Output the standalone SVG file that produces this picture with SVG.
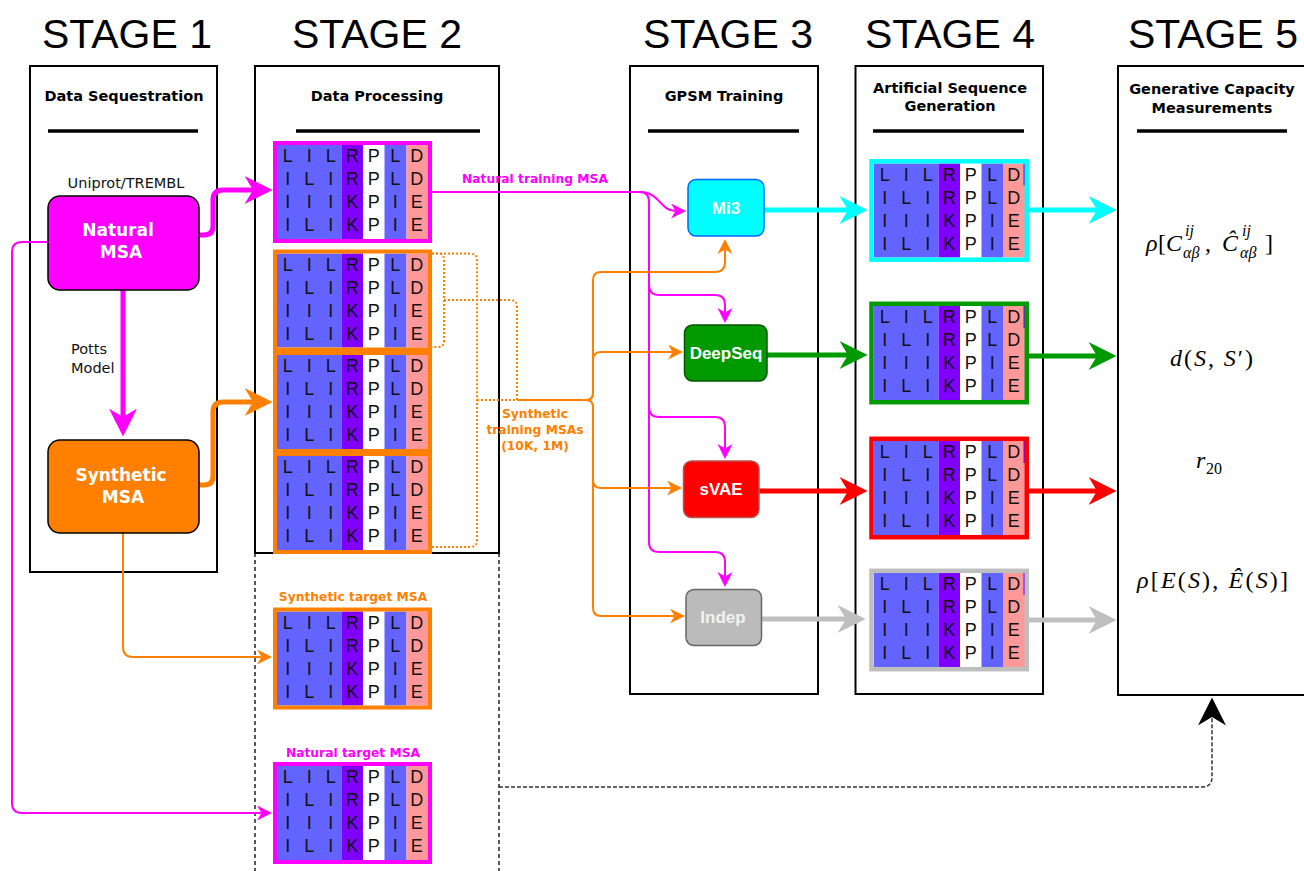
<svg xmlns="http://www.w3.org/2000/svg" xmlns:xlink="http://www.w3.org/1999/xlink" width="1304" height="871" viewBox="0 0 1304 871">
<style>
.stage{font-family:"Liberation Sans",Arial,sans-serif;font-size:41px;fill:#000;text-anchor:middle}
.ttl{font-family:"DejaVu Sans",Verdana,sans-serif;font-weight:bold;font-size:14.5px;fill:#000;text-anchor:middle}
.lbl{font-family:"DejaVu Sans",Verdana,sans-serif;font-size:14.5px;fill:#111}
.boxtxt{font-family:"DejaVu Sans",Verdana,sans-serif;font-weight:bold;font-size:17px;fill:#fff;text-anchor:middle}
.mtxt{font-family:"Liberation Sans",Arial,sans-serif;font-weight:bold;font-size:17px;fill:#fff;text-anchor:middle}
.clbl{font-family:"DejaVu Sans",Verdana,sans-serif;font-weight:bold;font-size:12.3px;text-anchor:middle}
.panel{fill:#fff;stroke:#000;stroke-width:2}
.bar{stroke:#000;stroke-width:3.5}
.aa{font-family:"Liberation Sans",Arial,sans-serif;font-size:18px;fill:#111;text-anchor:middle}
.math{font-family:"Liberation Serif","Times New Roman",serif;font-size:24px;fill:#000}
.it{font-style:italic}
.sub{font-size:16px}
.thick{fill:none;stroke-width:5}
.thin{fill:none;stroke-width:2}
.dot{fill:none;stroke:#FF8000;stroke-width:2;stroke-dasharray:2 2}
</style>
<defs>
<g id="msa">
<rect x="0" y="0" width="64.5" height="94" fill="#6363FF"/>
<rect x="64.5" y="0" width="21.5" height="94" fill="#7F00FF"/>
<rect x="86" y="0" width="21.5" height="94" fill="#FFFFFF"/>
<rect x="107.5" y="0" width="22" height="94" fill="#6363FF"/>
<rect x="129.5" y="0" width="21.5" height="94" fill="#FF9999"/>
<text class="aa" y="17"><tspan x="10.75">L</tspan><tspan x="32.25">I</tspan><tspan x="53.75">L</tspan><tspan x="75.25">R</tspan><tspan x="96.75">P</tspan><tspan x="118.25">L</tspan><tspan x="139.75">D</tspan></text>
<text class="aa" y="40"><tspan x="10.75">I</tspan><tspan x="32.25">L</tspan><tspan x="53.75">I</tspan><tspan x="75.25">R</tspan><tspan x="96.75">P</tspan><tspan x="118.25">L</tspan><tspan x="139.75">D</tspan></text>
<text class="aa" y="63"><tspan x="10.75">I</tspan><tspan x="32.25">I</tspan><tspan x="53.75">I</tspan><tspan x="75.25">K</tspan><tspan x="96.75">P</tspan><tspan x="118.25">I</tspan><tspan x="139.75">E</tspan></text>
<text class="aa" y="86"><tspan x="10.75">I</tspan><tspan x="32.25">L</tspan><tspan x="53.75">I</tspan><tspan x="75.25">K</tspan><tspan x="96.75">P</tspan><tspan x="118.25">I</tspan><tspan x="139.75">E</tspan></text>
</g>
<marker id="bMag" viewBox="0 0 10 10" refX="3" refY="5" markerWidth="28" markerHeight="28" markerUnits="userSpaceOnUse" orient="auto"><path d="M0,0 L10,5 L0,10 L3,5 Z" fill="#FF00FF"/></marker>
<marker id="bOra" viewBox="0 0 10 10" refX="3" refY="5" markerWidth="28" markerHeight="28" markerUnits="userSpaceOnUse" orient="auto"><path d="M0,0 L10,5 L0,10 L3,5 Z" fill="#FF8000"/></marker>
<marker id="bCya" viewBox="0 0 10 10" refX="3" refY="5" markerWidth="28" markerHeight="28" markerUnits="userSpaceOnUse" orient="auto"><path d="M0,0 L10,5 L0,10 L3,5 Z" fill="#00FFFF"/></marker>
<marker id="bGrn" viewBox="0 0 10 10" refX="3" refY="5" markerWidth="28" markerHeight="28" markerUnits="userSpaceOnUse" orient="auto"><path d="M0,0 L10,5 L0,10 L3,5 Z" fill="#009900"/></marker>
<marker id="bRed" viewBox="0 0 10 10" refX="3" refY="5" markerWidth="28" markerHeight="28" markerUnits="userSpaceOnUse" orient="auto"><path d="M0,0 L10,5 L0,10 L3,5 Z" fill="#FF0000"/></marker>
<marker id="bGry" viewBox="0 0 10 10" refX="3" refY="5" markerWidth="28" markerHeight="28" markerUnits="userSpaceOnUse" orient="auto"><path d="M0,0 L10,5 L0,10 L3,5 Z" fill="#BFBFBF"/></marker>
<marker id="bBlk" viewBox="0 0 10 10" refX="3" refY="5" markerWidth="28" markerHeight="28" markerUnits="userSpaceOnUse" orient="auto"><path d="M0,0 L10,5 L0,10 L3,5 Z" fill="#000"/></marker>
<marker id="sMag" viewBox="0 0 10 10" refX="3" refY="5" markerWidth="15" markerHeight="15" markerUnits="userSpaceOnUse" orient="auto"><path d="M0,0 L10,5 L0,10 L3,5 Z" fill="#FF00FF"/></marker>
<marker id="sOra" viewBox="0 0 10 10" refX="3" refY="5" markerWidth="15" markerHeight="15" markerUnits="userSpaceOnUse" orient="auto"><path d="M0,0 L10,5 L0,10 L3,5 Z" fill="#FF8000"/></marker>
</defs>

<rect width="1304" height="871" fill="#fff"/>

<g id="stage-titles">
<text class="stage" x="127" y="48">STAGE 1</text>
<text class="stage" x="377" y="48">STAGE 2</text>
<text class="stage" x="728" y="48">STAGE 3</text>
<text class="stage" x="950" y="48">STAGE 4</text>
<text class="stage" x="1213" y="48">STAGE 5</text>
</g>

<g id="stage1">
<rect class="panel" x="30" y="66" width="187" height="506"/>
<text class="ttl" x="124" y="101">Data Sequestration</text>
<line class="bar" x1="48" y1="131" x2="198" y2="131"/>
</g>
<g id="stage2">
<rect class="panel" x="255" y="66" width="244" height="487"/>
<path d="M255,553 V871 M499,553 V871" fill="none" stroke="#000" stroke-width="1.3" stroke-dasharray="4 3"/>
<text class="ttl" x="377" y="101">Data Processing</text>
<line class="bar" x1="296" y1="131" x2="480" y2="131"/>
</g>
<g id="stage3">
<rect class="panel" x="630" y="66" width="188" height="628"/>
<text class="ttl" x="724" y="101">GPSM Training</text>
<line class="bar" x1="648" y1="131" x2="799" y2="131"/>
</g>
<g id="stage4">
<rect class="panel" x="855.5" y="66" width="187.5" height="628"/>
<text class="ttl" x="950" y="93">Artificial Sequence</text>
<text class="ttl" x="950" y="111">Generation</text>
<line class="bar" x1="873" y1="131" x2="1024" y2="131"/>
</g>
<g id="stage5">
<rect class="panel" x="1118" y="66" width="200" height="629"/>
<text class="ttl" x="1212" y="94">Generative Capacity</text>
<text class="ttl" x="1212" y="113">Measurements</text>
<line class="bar" x1="1137" y1="131" x2="1287" y2="131"/>
</g>

<g id="connectors">
<path class="thick" stroke="#FF00FF" d="M123,290 V417" marker-end="url(#bMag)"/>
<path class="thick" stroke="#FF00FF" d="M199,235 H204 Q213,235 213,226 V200 Q213,190 223,190 H253" marker-end="url(#bMag)"/>
<path class="thick" stroke="#FF8000" d="M199,485 H204 Q213,485 213,476 V412 Q213,402 223,402 H253" marker-end="url(#bOra)"/>
<path class="thin" stroke="#FF00FF" d="M48,242 H22 Q12,242 12,252 V803 Q12,813 22,813 H261.5" marker-end="url(#sMag)"/>
<path class="thin" stroke="#FF8000" d="M123,533 V647 Q123,657 133,657 H261.5" marker-end="url(#sOra)"/>

<path class="thin" stroke="#FF00FF" d="M432,192 H640 C660,192 660,211 675.5,211" marker-end="url(#sMag)"/>
<path class="thin" stroke="#FF00FF" d="M640,192 Q649,192 649,202 V542 Q649,552 659,552 H715 Q725,552 725,562 V576.5" marker-end="url(#sMag)"/>
<path class="thin" stroke="#FF00FF" d="M649,285 Q649,295 659,295 H715 Q725,295 725,305 V312.5" marker-end="url(#sMag)"/>
<path class="thin" stroke="#FF00FF" d="M649,407 Q649,417 659,417 H715 Q725,417 725,427 V448.5" marker-end="url(#sMag)"/>

<path class="dot" d="M432,253.5 H438 Q444,253.5 444,260 V341 Q444,347 438,347 H432"/>
<path class="dot" d="M444,300 H510 Q517,300 517,307 V400"/>
<path class="dot" d="M432,253.5 H470 Q477,253.5 477,260 V400"/>
<path class="dot" d="M432,547 H470 Q477,547 477,540 V400"/>
<path class="dot" d="M477,400 H517"/>

<path class="thin" stroke="#FF8000" d="M517,400 H586 Q593,400 593,393 V280 Q593,272 601,272 H715 Q725,272 725,262 V249.5" marker-end="url(#sOra)"/>
<path class="thin" stroke="#FF8000" d="M586,400 Q593,400 593,393 V360 Q593,352 601,352 H672.5" marker-end="url(#sOra)"/>
<path class="thin" stroke="#FF8000" d="M586,400 Q593,400 593,407 V480 Q593,488 601,488 H671.5" marker-end="url(#sOra)"/>
<path class="thin" stroke="#FF8000" d="M593,480 V608 Q593,616 601,616 H674.5" marker-end="url(#sOra)"/>

<path class="thick" stroke="#00FFFF" d="M764,210 H848" marker-end="url(#bCya)"/>
<path class="thick" stroke="#009900" d="M767,355 H848" marker-end="url(#bGrn)"/>
<path class="thick" stroke="#FF0000" d="M759,491 H848" marker-end="url(#bRed)"/>
<path class="thick" stroke="#BFBFBF" d="M762,619 H846" marker-end="url(#bGry)"/>
<path class="thick" stroke="#00FFFF" d="M1029,210 H1097" marker-end="url(#bCya)"/>
<path class="thick" stroke="#009900" d="M1029,356 H1097" marker-end="url(#bGrn)"/>
<path class="thick" stroke="#FF0000" d="M1029,491 H1097" marker-end="url(#bRed)"/>
<path class="thick" stroke="#BFBFBF" d="M1029,620 H1097" marker-end="url(#bGry)"/>

<path d="M499,787 H1202 Q1212,787 1212,777 V717" fill="none" stroke="#333" stroke-width="1.5" stroke-dasharray="4 2" marker-end="url(#bBlk)"/>
</g>

<g id="natural-msa">
<rect x="48" y="196" width="151" height="94" rx="12" fill="#FF00FF" stroke="#000" stroke-width="1.5"/>
<text class="boxtxt" x="118" y="236">Natural</text>
<text class="boxtxt" x="121" y="258">MSA</text>
<text class="lbl" x="126" y="188" text-anchor="middle">Uniprot/TREMBL</text>
</g>
<g id="potts-label">
<text class="lbl" x="71" y="354">Potts</text>
<text class="lbl" x="71" y="373">Model</text>
</g>
<g id="synthetic-msa">
<rect x="48" y="440" width="151" height="93" rx="12" fill="#FF8000" stroke="#000" stroke-width="1.5"/>
<text class="boxtxt" x="121" y="481">Synthetic</text>
<text class="boxtxt" x="123" y="503">MSA</text>
</g>

<g id="natural-training-msa">
<use xlink:href="#msa" href="#msa" x="277" y="145"/>
<rect x="275" y="143" width="155" height="98" fill="none" stroke="#FF00FF" stroke-width="4"/>
<text class="clbl" x="535" y="183" fill="#FF00FF">Natural training MSA</text>
</g>
<g id="synthetic-training-msas">
<use xlink:href="#msa" href="#msa" x="277" y="253.5"/>
<rect x="275" y="251.5" width="155" height="98" fill="none" stroke="#FF8000" stroke-width="4"/>
<use xlink:href="#msa" href="#msa" x="277" y="355"/>
<rect x="275" y="353" width="155" height="98" fill="none" stroke="#FF8000" stroke-width="4"/>
<use xlink:href="#msa" href="#msa" x="277" y="456"/>
<rect x="275" y="454" width="155" height="98" fill="none" stroke="#FF8000" stroke-width="4"/>
<text class="clbl" fill="#FF8000"><tspan x="535" y="418">Synthetic</tspan><tspan x="535" y="434">training MSAs</tspan><tspan x="535" y="450">(10K, 1M)</tspan></text>
</g>
<g id="synthetic-target-msa">
<text class="clbl" x="353" y="601" fill="#FF8000">Synthetic target MSA</text>
<use xlink:href="#msa" href="#msa" x="277" y="611.5"/>
<rect x="275" y="609.5" width="155" height="98" fill="none" stroke="#FF8000" stroke-width="4"/>
</g>
<g id="natural-target-msa">
<text class="clbl" x="353" y="757" fill="#FF00FF">Natural target MSA</text>
<use xlink:href="#msa" href="#msa" x="277" y="766"/>
<rect x="275" y="764" width="155" height="98" fill="none" stroke="#FF00FF" stroke-width="4"/>
</g>

<g id="mi3">
<rect x="688" y="179.5" width="76" height="56.5" rx="8" fill="#00FFFF" stroke="#0066FF" stroke-width="1.5"/>
<text class="mtxt" x="726" y="214">Mi3</text>
</g>
<g id="deepseq">
<rect x="684.5" y="325" width="82.5" height="56" rx="8" fill="#009900" stroke="#005700" stroke-width="1.5"/>
<text class="mtxt" x="726" y="359">DeepSeq</text>
</g>
<g id="svae">
<rect x="683.5" y="461" width="75.5" height="56.5" rx="8" fill="#FF0000" stroke="#B85450" stroke-width="1.5"/>
<text class="mtxt" x="721" y="495">sVAE</text>
</g>
<g id="indep">
<rect x="686" y="589.5" width="75.5" height="56" rx="8" fill="#BBBBBB" stroke="#666666" stroke-width="1.5"/>
<text class="mtxt" x="723" y="623" style="fill:#F2F2F2">Indep</text>
</g>

<g id="gen-mi3">
<use xlink:href="#msa" href="#msa" x="874" y="163.5"/>
<rect x="1023.5" y="163.5" width="1.5" height="22" fill="#7F00FF"/>
<rect x="871.5" y="161.3" width="155.3" height="98.4" fill="none" stroke="#00FFFF" stroke-width="4.5"/>
</g>
<g id="gen-deepseq">
<use xlink:href="#msa" href="#msa" x="874" y="306"/>
<rect x="1023.5" y="306" width="1.5" height="22" fill="#7F00FF"/>
<rect x="871.5" y="303.8" width="155.3" height="98.4" fill="none" stroke="#009900" stroke-width="4.5"/>
</g>
<g id="gen-svae">
<use xlink:href="#msa" href="#msa" x="874" y="441"/>
<rect x="1023.5" y="441" width="1.5" height="22" fill="#7F00FF"/>
<rect x="871.5" y="438.8" width="155.3" height="98.4" fill="none" stroke="#FF0000" stroke-width="4.5"/>
</g>
<g id="gen-indep">
<use xlink:href="#msa" href="#msa" x="874" y="573"/>
<rect x="1023.5" y="573" width="1.5" height="22" fill="#7F00FF"/>
<rect x="871.5" y="570.8" width="155.3" height="98.4" fill="none" stroke="#BFBFBF" stroke-width="4.5"/>
</g>

<g id="measures">
<text class="math" y="251"><tspan x="1146" class="it">ρ</tspan><tspan x="1158">[</tspan><tspan x="1166" class="it">C</tspan></text>
<text class="math sub it" x="1185" y="236">ij</text>
<text class="math sub it" x="1183" y="258">αβ</text>
<text class="math" x="1205" y="251">,</text>
<text class="math it" x="1222" y="251">Ĉ</text>
<text class="math sub it" x="1242" y="236">ij</text>
<text class="math sub it" x="1240" y="258">αβ</text>
<text class="math" x="1265" y="251">]</text>

<text class="math" x="1170" y="366" textLength="83" lengthAdjust="spacing"><tspan class="it">d</tspan>(<tspan class="it">S</tspan>, <tspan class="it">S</tspan>′)</text>

<text class="math it" x="1196" y="468">r</text>
<text class="math sub" x="1206" y="474">20</text>

<text class="math" x="1137" y="588" textLength="151" lengthAdjust="spacing"><tspan class="it">ρ</tspan>[<tspan class="it">E</tspan>(<tspan class="it">S</tspan>), <tspan class="it">Ê</tspan>(<tspan class="it">S</tspan>)]</text>
</g>
</svg>
